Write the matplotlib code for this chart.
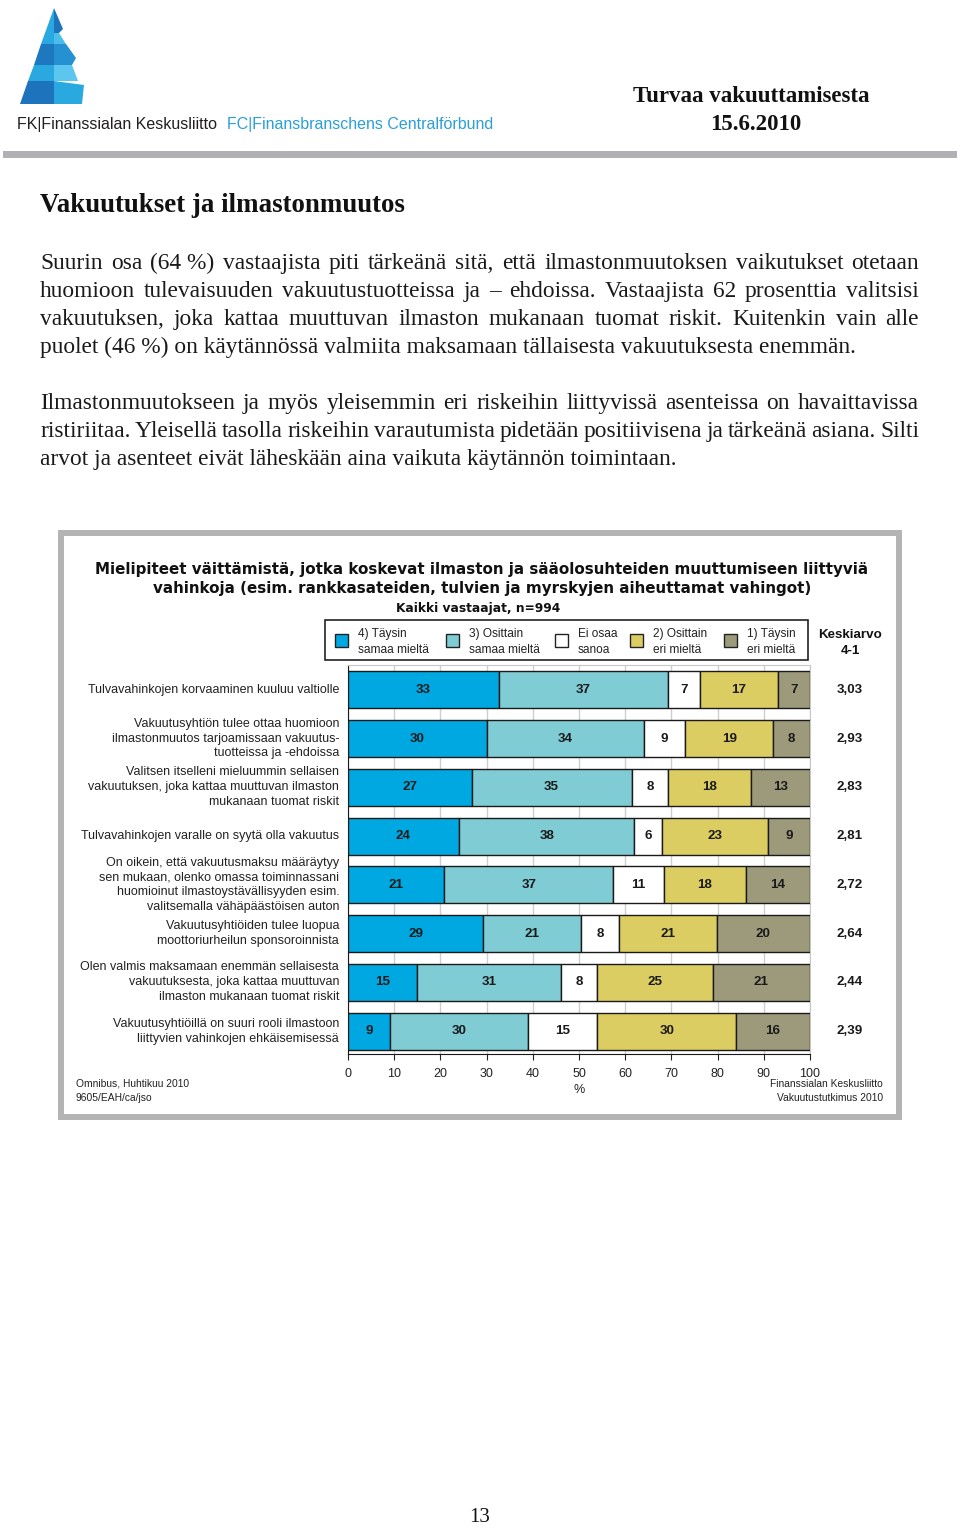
import numpy as np
import matplotlib.pyplot as plt
from matplotlib.patches import Polygon, Rectangle

W, H = 960, 1529

# Data
statements = [
    "Tulvavahinkojen korvaaminen kuuluu valtiolle",
    "Vakuutusyhtiön tulee ottaa huomioon\nilmastonmuutos tarjoamissaan vakuutus-\ntuotteissa ja -ehdoissa",
    "Valitsen itselleni mieluummin sellaisen\nvakuutuksen, joka kattaa muuttuvan ilmaston\nmukanaan tuomat riskit",
    "Tulvavahinkojen varalle on syytä olla vakuutus",
    "On oikein, että vakuutusmaksu määräytyy\nsen mukaan, olenko omassa toiminnassani\nhuomioinut ilmastoystävällisyyden esim.\nvalitsemalla vähäpäästöisen auton",
    "Vakuutusyhtiöiden tulee luopua\nmoottoriurheilun sponsoroinnista",
    "Olen valmis maksamaan enemmän sellaisesta\nvakuutuksesta, joka kattaa muuttuvan\nilmaston mukanaan tuomat riskit",
    "Vakuutusyhtiöillä on suuri rooli ilmastoon\nliittyvien vahinkojen ehkäisemisessä",
]
taysin_samaa = [33, 30, 27, 24, 21, 29, 15, 9]
osittain_samaa = [37, 34, 35, 38, 37, 21, 31, 30]
ei_osaa = [7, 9, 8, 6, 11, 8, 8, 15]
osittain_eri = [17, 19, 18, 23, 18, 21, 25, 30]
taysin_eri = [7, 8, 13, 9, 14, 20, 21, 16]
keskiarvo = ["3,03", "2,93", "2,83", "2,81", "2,72", "2,64", "2,44", "2,39"]

series = [taysin_samaa, osittain_samaa, ei_osaa, osittain_eri, taysin_eri]
series_names = ["4) Täysin\nsamaa mieltä", "3) Osittain\nsamaa mieltä", "Ei osaa\nsanoa",
                "2) Osittain\neri mieltä", "1) Täysin\neri mieltä"]
colors = ["#00a8e2", "#7fccd4", "#ffffff", "#dccd62", "#9c9a7b"]

fig = plt.figure(figsize=(W / 100, H / 100), dpi=100)


def px(x, y):
    return x / W, 1 - y / H


def ftext(x, y, s, **kw):
    return fig.text(*px(x, y), s, **kw)


# ---------- header ----------
logo = [
    ([(54, 8), (54, 33), (45.2, 33)], "#2aa9e0"),
    ([(45.2, 33), (54, 33), (54, 44), (41.3, 44)], "#2aa9e0"),
    ([(41.3, 44), (54, 44), (54, 65), (33.8, 65)], "#1d78c0"),
    ([(33.8, 65), (54, 65), (54, 81), (28.2, 81)], "#2aa9e0"),
    ([(28.2, 81), (54, 81), (54, 104), (20, 104)], "#1d74bd"),
    ([(54, 8), (63, 29), (59, 33), (54, 33)], "#1d74bd"),
    ([(54, 33), (59, 33), (66, 44), (54, 44)], "#4cbdea"),
    ([(54, 44), (66, 44), (76, 58), (72, 65), (54, 65)], "#2590d2"),
    ([(54, 65), (72, 65), (78, 81), (54, 81)], "#5cc6ef"),
    ([(54, 81), (84, 85), (82, 104), (54, 104)], "#2aa9e0"),
]
for pts, c in logo:
    fig.patches.append(Polygon([px(x, y) for x, y in pts], closed=True, facecolor=c,
                               edgecolor="none", transform=fig.transFigure))

ftext(17, 125, "FK|Finanssialan Keskusliitto", fontsize=11.5, family="Liberation Sans",
      color="#231f20", va="center")
ftext(227, 125, "FC|Finansbranschens Centralförbund", fontsize=11.5, family="Liberation Sans",
      color="#2b9fd6", va="center")

ftext(751, 97, "Turvaa vakuuttamisesta", fontsize=16.5, family="Liberation Serif",
      weight="bold", ha="center", va="center", color="#111111")
ftext(756, 125, "15.6.2010", fontsize=16.5, family="Liberation Serif",
      weight="bold", ha="center", va="center", color="#111111")

fig.patches.append(Rectangle(px(3, 158), 954 / W, 7 / H, facecolor="#b1b1b5",
                             edgecolor="none", transform=fig.transFigure))

ftext(40, 205, "Vakuutukset ja ilmastonmuutos", fontsize=19.4, family="Liberation Serif",
      weight="bold", va="center", color="#111111")

# ---------- justified body text ----------
para1 = [
    "Suurin osa (64\u00a0%) vastaajista piti tärkeänä sitä, että ilmastonmuutoksen vaikutukset otetaan",
    "huomioon tulevaisuuden vakuutustuotteissa ja – ehdoissa. Vastaajista 62 prosenttia valitsisi",
    "vakuutuksen, joka kattaa muuttuvan ilmaston mukanaan tuomat riskit. Kuitenkin vain alle",
    "puolet (46\u00a0%) on käytännössä valmiita maksamaan tällaisesta vakuutuksesta enemmän.",
]
para2 = [
    "Ilmastonmuutokseen ja myös yleisemmin eri riskeihin liittyvissä asenteissa on havaittavissa",
    "ristiriitaa. Yleisellä tasolla riskeihin varautumista pidetään positiivisena ja tärkeänä asiana. Silti",
    "arvot ja asenteet eivät läheskään aina vaikuta käytännön toimintaan.",
]

renderer = fig.canvas.get_renderer()
body_kw = dict(fontsize=16.8, family="Liberation Serif", color="#1a1a1a", va="baseline")


def justified(lines, y0, x0=40, x1=919, dy=28):
    # y0 = baseline of the first line
    for k, line in enumerate(lines):
        y = y0 + k * dy
        if k == len(lines) - 1:
            ftext(x0, y, line, **body_kw)
            continue
        words = [ftext(x0, y, w, **body_kw) for w in line.split(" ")]
        widths = [t.get_window_extent(renderer).width for t in words]
        gap = (x1 - x0 - sum(widths)) / (len(words) - 1)
        x = x0
        for t, w in zip(words, widths):
            t.set_position(px(x, y))
            x += w + gap


justified(para1, 269)
justified(para2, 409)

# ---------- chart frame ----------
fig.patches.append(Rectangle(px(61, 1117), 838 / W, 584 / H, facecolor="none",
                             edgecolor="#b4b4b4", linewidth=4.3, transform=fig.transFigure))

title_kw = dict(fontsize=10.9, family="DejaVu Sans", weight="bold", ha="center",
                va="center", color="#111111")
ftext(482, 569, "Mielipiteet väittämistä, jotka koskevat ilmaston ja sääolosuhteiden muuttumiseen liittyviä",
      **title_kw)
ftext(482, 588, "vahinkoja (esim. rankkasateiden, tulvien ja myrskyjen aiheuttamat vahingot)", **title_kw)
ftext(478, 608, "Kaikki vastaajat, n=994", fontsize=8.8, family="DejaVu Sans", weight="bold",
      ha="center", va="center", color="#111111")

# legend box
fig.patches.append(Rectangle(px(325, 660), 483 / W, 40 / H, facecolor="none",
                             edgecolor="#222222", linewidth=1.2, transform=fig.transFigure))
mark_x = [341, 452, 561, 636, 730]
for mx, name, c in zip(mark_x, series_names, colors):
    fig.patches.append(Rectangle(px(mx - 6.5, 647), 13 / W, 13 / H, facecolor=c,
                                 edgecolor="#222222", linewidth=1, transform=fig.transFigure))
    ftext(mx + 17, 642, name, fontsize=8.6, family="Liberation Sans", va="center",
          color="#222222", linespacing=1.4)
ftext(850, 643, "Keskiarvo\n4-1", fontsize=9.6, family="Liberation Sans", weight="bold",
      ha="center", va="center", color="#111111", linespacing=1.35)

# ---------- bars ----------
ax = fig.add_axes([348 / W, 1 - 1054 / H, 462 / W, 389 / H])
y = np.arange(len(statements))
totals = np.sum(series, axis=0)
left = np.zeros(len(statements))
for vals, c in zip(series, colors):
    widths = np.array(vals) / totals * 100
    ax.barh(y, widths, left=left, height=0.76, color=c, edgecolor="#1a1a1a",
            linewidth=1, zorder=3)
    for yi, l, w, v in zip(y, left, widths, vals):
        ax.text(l + w / 2, yi, str(v), ha="center", va="center", fontsize=9.6,
                weight="bold", family="Liberation Sans", color="#1a1a1a", zorder=4)
    left += widths

for yi, lab, m in zip(y, statements, keskiarvo):
    ax.text(-1.9, yi, lab, ha="right", va="center", fontsize=9,
            family="Liberation Sans", color="#222222", linespacing=1.32)
    ax.text(108.5, yi, m, ha="center", va="center", fontsize=9.6, weight="bold",
            family="Liberation Sans", color="#1a1a1a")

ax.set_xlim(0, 100)
ax.set_ylim(7.47, -0.51)
ax.set_yticks([])
ax.set_xticks(np.arange(0, 101, 10))
ax.tick_params(axis="x", labelsize=9, length=4, pad=6, direction="out", colors="#222222")
for lab in ax.get_xticklabels():
    lab.set_family("Liberation Sans")
ax.grid(axis="x", color="#cfcfcf", linewidth=1, zorder=0)
ax.spines["left"].set_color("#1a1a1a")
ax.spines["bottom"].set_color("#1a1a1a")
ax.spines["top"].set_color("#c8c8c8")
ax.spines["right"].set_color("#c8c8c8")
ax.set_xlabel("%", fontsize=9, family="Liberation Sans", labelpad=3, color="#222222")

foot_kw = dict(fontsize=7.4, family="Liberation Sans", color="#222222", va="center")
ftext(76, 1084, "Omnibus, Huhtikuu 2010", **foot_kw)
ftext(76, 1098, "9605/EAH/ca/jso", **foot_kw)
ftext(883, 1084, "Finanssialan Keskusliitto", ha="right", **foot_kw)
ftext(883, 1098, "Vakuutustutkimus 2010", ha="right", **foot_kw)

ftext(480, 1517, "13", fontsize=15, family="Liberation Serif", ha="center", va="center",
      color="#111111")

fig.savefig("out.png", dpi=100, facecolor="white")
